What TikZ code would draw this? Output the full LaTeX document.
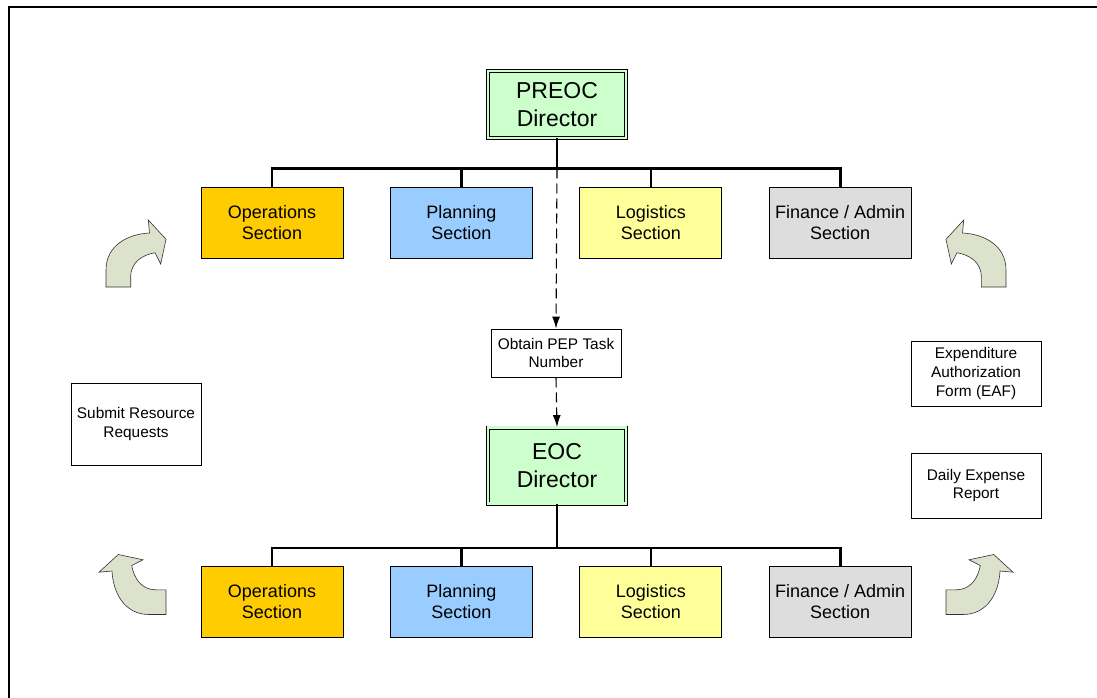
\documentclass[tikz,border=0pt]{standalone}
\usepackage{fontspec}
\setmainfont{Liberation Sans}
\usetikzlibrary{arrows.meta,calc}
\definecolor{opsorange}{HTML}{FFCC00}
\definecolor{planblue}{HTML}{99CCFF}
\definecolor{logyellow}{HTML}{FFFF99}
\definecolor{fingray}{HTML}{DDDDDD}
\definecolor{dirgreen}{HTML}{CCFFCC}
\definecolor{bentfill}{RGB}{221,226,205}
\tikzstyle{conn} = [draw, line width=2.6pt]
\tikzstyle{task} = [draw, -{Latex[length=12pt,width=8pt]}, dash pattern=on 10pt off 5pt, line width=1.1pt]
\tikzstyle{director} = [rectangle, draw, line width=0.8pt, double=dirgreen, double distance=2.4pt, fill=dirgreen, minimum width=138pt, minimum height=67pt, align=center, font=\fontsize{23}{27.4}\selectfont]
\tikzstyle{section} = [rectangle, draw, line width=0.9pt, minimum width=142pt, minimum height=71pt, align=center, node distance=189.4pt, font=\fontsize{18}{21.5}\selectfont]
\tikzstyle{note} = [rectangle, draw, line width=0.9pt, minimum width=130pt, align=center, font=\fontsize{15.4}{18.6}\selectfont]
\tikzstyle{bent} = [draw=black!80, line width=0.6pt, fill=bentfill]
% curved block arrow, base centre at the origin
\newcommand{\bentarrow}[1]{%
  \begin{scope}[#1]
    \path [bent] (-12.5,0) -- (-12.5,17) .. controls (-12.5,42) and (10,53) .. (31,54)
      -- (29.8,67) -- (47.5,47.7) -- (42.2,23) -- (36.5,34.3)
      .. controls (24,32) and (12.2,25) .. (12.2,10) -- (12.2,0) -- cycle;
  \end{scope}}

\begin{document}
\begin{tikzpicture}[x=1pt, y=1pt]
	\useasboundingbox (0,0) rectangle (1097,-698);
	\draw [line width=1.8pt] (9,-698) -- (9,-7) -- (1097,-7);
	
	\node [director] (preoc) at (557,-104.5) {PREOC\\Director};
	\node [section, fill=opsorange] (ops1) at (272,-222.5) {Operations\\Section};
	\node [section, fill=planblue, right of=ops1] (plan1) {Planning\\Section};
	\node [section, fill=logyellow, right of=plan1] (log1) {Logistics\\Section};
	\node [section, fill=fingray, right of=log1] (fin1) {Finance / Admin\\Section};
	\coordinate (bus1) at (557,-168.5);
	\path [conn] (preoc.south) -- (bus1);
	\path [conn] (ops1.north) |- (bus1) -| (fin1.north);
	\path [conn] (plan1.north) -- (plan1.north |- bus1);
	\path [conn] (log1.north) -- (log1.north |- bus1);
	
	\node [note, minimum height=48pt] (pep) at (556,-353) {Obtain PEP Task\\Number};
	\path [task] (bus1) -- (pep.north);
	
	\node [director, minimum height=76pt] (eoc) at (557,-465.5) {EOC\\Director};
	\path [task] (pep.south) -- (eoc.north);
	
	\node [section, fill=opsorange] (ops2) at (272,-601.5) {Operations\\Section};
	\node [section, fill=planblue, right of=ops2] (plan2) {Planning\\Section};
	\node [section, fill=logyellow, right of=plan2] (log2) {Logistics\\Section};
	\node [section, fill=fingray, right of=log2] (fin2) {Finance / Admin\\Section};
	\coordinate (bus2) at (557,-548);
	\path [conn] (eoc.south) -- (bus2);
	\path [conn] (ops2.north) |- (bus2) -| (fin2.north);
	\path [conn] (plan2.north) -- (plan2.north |- bus2);
	\path [conn] (log2.north) -- (log2.north |- bus2);
	
	\node [note, minimum height=82pt] (submit) at (136,-424) {Submit Resource\\Requests};
	\node [note, minimum height=65pt] (eaf) at (976,-373.5) {Expenditure\\Authorization\\Form (EAF)};
	\node [note, minimum height=65pt] (daily) at (976,-485.5) {Daily Expense\\Report};
	
	\bentarrow{shift={(118.5,-287)}}
	\bentarrow{shift={(993.5,-287)}, xscale=-1}
	\bentarrow{shift={(166,-602)}, rotate=90}
	\bentarrow{shift={(946,-602)}, xscale=-1, rotate=90}
\end{tikzpicture}
\end{document}
